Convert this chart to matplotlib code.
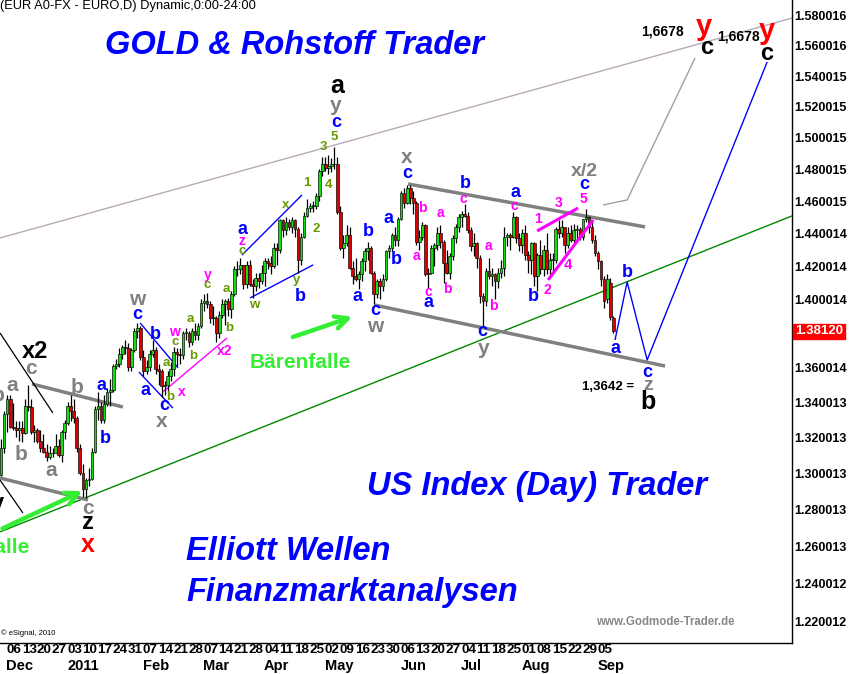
import numpy as np
import matplotlib
matplotlib.use("Agg")
import matplotlib.pyplot as plt
from matplotlib.ticker import NullLocator

plt.rcParams['font.family'] = ['Liberation Sans', 'DejaVu Sans']

# ---------------- data (daily EUR/USD candles, weekday index from 2010-11-29) -------------
opens = [1.3230, 1.3070, 1.2990, 1.3140, 1.3330, 1.3420, 1.3260, 1.3250, 1.3240, 1.3250,
         1.3225, 1.3380, 1.3370, 1.3230, 1.3240, 1.3180, 1.3140, 1.3120, 1.3090, 1.3110,
         1.3110, 1.3150, 1.3100, 1.3230, 1.3280, 1.3380, 1.3350, 1.3310, 1.3140, 1.3000,
         1.2910, 1.2960, 1.2970, 1.3120, 1.3360, 1.3380, 1.3300, 1.3390, 1.3460, 1.3470,
         1.3610, 1.3620, 1.3680, 1.3720, 1.3710, 1.3600, 1.3700, 1.3810, 1.3830, 1.3660,
         1.3580, 1.3600, 1.3680, 1.3700, 1.3590, 1.3580, 1.3490, 1.3500, 1.3550, 1.3590,
         1.3690, 1.3680, 1.3670, 1.3800, 1.3800, 1.3750, 1.3810, 1.3790, 1.3840, 1.3980,
         1.3990, 1.3970, 1.3890, 1.3890, 1.3800, 1.3910, 1.3970, 1.3990, 1.3940, 1.4030,
         1.4180, 1.4180, 1.4210, 1.4090, 1.4210, 1.4090, 1.4080, 1.4130, 1.4110, 1.4160,
         1.4230, 1.4220, 1.4200, 1.4310, 1.4300, 1.4480, 1.4420, 1.4470, 1.4440, 1.4480,
         1.4430, 1.4240, 1.4380, 1.4510, 1.4560, 1.4570, 1.4570, 1.4630, 1.4790, 1.4830,
         1.4810, 1.4820, 1.4830, 1.4830, 1.4530, 1.4310, 1.4340, 1.4390, 1.4190, 1.4140,
         1.4120, 1.4150, 1.4230, 1.4290, 1.4310, 1.4160, 1.4030, 1.4110, 1.4080, 1.4120,
         1.4290, 1.4310, 1.4390, 1.4360, 1.4490, 1.4650, 1.4590, 1.4680, 1.4620, 1.4590,
         1.4350, 1.4380, 1.4450, 1.4150, 1.4160, 1.4310, 1.4330, 1.4400, 1.4350, 1.4220,
         1.4160, 1.4260, 1.4370, 1.4440, 1.4500, 1.4520, 1.4510, 1.4420, 1.4320, 1.4340,
         1.4250, 1.4020, 1.3990, 1.4170, 1.4140, 1.4150, 1.4110, 1.4160, 1.4190, 1.4380,
         1.4390, 1.4380, 1.4500, 1.4370, 1.4330, 1.4400, 1.4270, 1.4240, 1.4340, 1.4140,
         1.4270, 1.4180, 1.4300, 1.4180, 1.4240, 1.4240, 1.4430, 1.4400, 1.4440, 1.4330,
         1.4400, 1.4360, 1.4420, 1.4430, 1.4380, 1.4490, 1.4500, 1.4440, 1.4360, 1.4280,
         1.4230, 1.4120, 1.4000, 1.4100, 1.3890]
highs = [1.3240, 1.3100, 1.3190, 1.3350, 1.3440, 1.3440, 1.3395, 1.3290, 1.3290, 1.3290,
         1.3420, 1.3500, 1.3420, 1.3270, 1.3255, 1.3240, 1.3220, 1.3160, 1.3150, 1.3140,
         1.3220, 1.3190, 1.3240, 1.3300, 1.3400, 1.3440, 1.3420, 1.3320, 1.3160, 1.3050,
         1.2975, 1.3030, 1.3140, 1.3380, 1.3460, 1.3400, 1.3440, 1.3480, 1.3530, 1.3620,
         1.3650, 1.3710, 1.3730, 1.3760, 1.3740, 1.3710, 1.3830, 1.3860, 1.3840, 1.3700,
         1.3640, 1.3700, 1.3760, 1.3720, 1.3620, 1.3590, 1.3520, 1.3580, 1.3630, 1.3720,
         1.3710, 1.3710, 1.3810, 1.3830, 1.3810, 1.3830, 1.3860, 1.3860, 1.4000, 1.4030,
         1.4040, 1.3990, 1.3960, 1.3900, 1.3930, 1.4000, 1.4000, 1.4010, 1.4050, 1.4200,
         1.4230, 1.4250, 1.4210, 1.4230, 1.4240, 1.4120, 1.4160, 1.4160, 1.4210, 1.4250,
         1.4250, 1.4260, 1.4340, 1.4340, 1.4490, 1.4490, 1.4500, 1.4490, 1.4500, 1.4490,
         1.4440, 1.4400, 1.4530, 1.4610, 1.4590, 1.4600, 1.4650, 1.4800, 1.4880, 1.4880,
         1.4890, 1.4870, 1.4940, 1.4880, 1.4570, 1.4390, 1.4450, 1.4440, 1.4230, 1.4250,
         1.4170, 1.4250, 1.4310, 1.4350, 1.4320, 1.4170, 1.4120, 1.4130, 1.4150, 1.4300,
         1.4330, 1.4400, 1.4440, 1.4500, 1.4660, 1.4680, 1.4700, 1.4700, 1.4660, 1.4600,
         1.4420, 1.4470, 1.4460, 1.4190, 1.4330, 1.4340, 1.4440, 1.4450, 1.4360, 1.4300,
         1.4280, 1.4390, 1.4460, 1.4520, 1.4540, 1.4580, 1.4530, 1.4440, 1.4400, 1.4350,
         1.4270, 1.4040, 1.4190, 1.4250, 1.4190, 1.4160, 1.4190, 1.4240, 1.4440, 1.4400,
         1.4400, 1.4530, 1.4510, 1.4400, 1.4430, 1.4450, 1.4290, 1.4350, 1.4350, 1.4280,
         1.4360, 1.4330, 1.4400, 1.4280, 1.4280, 1.4440, 1.4480, 1.4480, 1.4440, 1.4440,
         1.4450, 1.4460, 1.4450, 1.4440, 1.4490, 1.4550, 1.4510, 1.4480, 1.4390, 1.4290,
         1.4240, 1.4140, 1.4150, 1.4130, 1.3900]
lows = [1.3060, 1.2968, 1.2985, 1.3110, 1.3230, 1.3250, 1.3240, 1.3200, 1.3180, 1.3175,
        1.3220, 1.3350, 1.3220, 1.3175, 1.3170, 1.3120, 1.3110, 1.3070, 1.3080, 1.3090,
        1.3110, 1.3090, 1.3060, 1.3190, 1.3270, 1.3290, 1.3280, 1.3120, 1.2990, 1.2870,
        1.2860, 1.2930, 1.2960, 1.3110, 1.3300, 1.3280, 1.3280, 1.3380, 1.3380, 1.3460,
        1.3590, 1.3600, 1.3650, 1.3680, 1.3580, 1.3580, 1.3690, 1.3770, 1.3640, 1.3550,
        1.3560, 1.3580, 1.3660, 1.3560, 1.3500, 1.3430, 1.3440, 1.3460, 1.3520, 1.3550,
        1.3610, 1.3620, 1.3650, 1.3760, 1.3720, 1.3730, 1.3760, 1.3760, 1.3830, 1.3930,
        1.3950, 1.3860, 1.3850, 1.3750, 1.3770, 1.3890, 1.3850, 1.3900, 1.3890, 1.4020,
        1.4140, 1.4150, 1.4060, 1.4070, 1.4080, 1.4010, 1.4050, 1.4070, 1.4090, 1.4080,
        1.4180, 1.4150, 1.4190, 1.4210, 1.4280, 1.4380, 1.4390, 1.4420, 1.4400, 1.4380,
        1.4160, 1.4210, 1.4370, 1.4500, 1.4530, 1.4530, 1.4550, 1.4600, 1.4760, 1.4790,
        1.4770, 1.4780, 1.4800, 1.4520, 1.4300, 1.4250, 1.4320, 1.4180, 1.4090, 1.4110,
        1.4060, 1.4110, 1.4170, 1.4240, 1.4150, 1.3970, 1.4010, 1.4000, 1.4050, 1.4110,
        1.4250, 1.4290, 1.4320, 1.4320, 1.4480, 1.4560, 1.4580, 1.4580, 1.4520, 1.4330,
        1.4300, 1.4360, 1.4140, 1.4070, 1.4150, 1.4200, 1.4300, 1.4310, 1.4100, 1.4150,
        1.4120, 1.4240, 1.4340, 1.4410, 1.4440, 1.4500, 1.4400, 1.4290, 1.4260, 1.4190,
        1.3980, 1.3837, 1.3960, 1.4120, 1.4080, 1.4000, 1.4070, 1.4130, 1.4140, 1.4320,
        1.4300, 1.4370, 1.4340, 1.4290, 1.4280, 1.4240, 1.4160, 1.4150, 1.4080, 1.4050,
        1.4150, 1.4140, 1.4150, 1.4140, 1.4150, 1.4220, 1.4370, 1.4380, 1.4280, 1.4310,
        1.4350, 1.4340, 1.4360, 1.4360, 1.4360, 1.4470, 1.4400, 1.4340, 1.4260, 1.4180,
        1.4080, 1.3950, 1.3980, 1.3880, 1.3800]
closes = [1.3070, 1.2990, 1.3140, 1.3330, 1.3420, 1.3260, 1.3250, 1.3240, 1.3250, 1.3225,
          1.3380, 1.3370, 1.3230, 1.3240, 1.3180, 1.3140, 1.3120, 1.3090, 1.3110, 1.3110,
          1.3150, 1.3100, 1.3230, 1.3280, 1.3380, 1.3350, 1.3310, 1.3140, 1.3000, 1.2910,
          1.2960, 1.2970, 1.3120, 1.3360, 1.3380, 1.3300, 1.3390, 1.3460, 1.3470, 1.3610,
          1.3620, 1.3680, 1.3720, 1.3710, 1.3600, 1.3700, 1.3810, 1.3830, 1.3660, 1.3580,
          1.3600, 1.3680, 1.3700, 1.3590, 1.3580, 1.3490, 1.3500, 1.3550, 1.3590, 1.3690,
          1.3680, 1.3670, 1.3800, 1.3800, 1.3750, 1.3810, 1.3790, 1.3840, 1.3980, 1.3990,
          1.3970, 1.3890, 1.3890, 1.3800, 1.3910, 1.3970, 1.3990, 1.3940, 1.4030, 1.4180,
          1.4180, 1.4210, 1.4090, 1.4210, 1.4090, 1.4080, 1.4130, 1.4110, 1.4160, 1.4230,
          1.4220, 1.4200, 1.4310, 1.4300, 1.4480, 1.4420, 1.4470, 1.4440, 1.4480, 1.4430,
          1.4240, 1.4380, 1.4510, 1.4560, 1.4570, 1.4570, 1.4630, 1.4790, 1.4830, 1.4810,
          1.4820, 1.4830, 1.4830, 1.4530, 1.4310, 1.4340, 1.4390, 1.4190, 1.4140, 1.4120,
          1.4150, 1.4230, 1.4290, 1.4310, 1.4160, 1.4030, 1.4110, 1.4080, 1.4120, 1.4290,
          1.4310, 1.4390, 1.4360, 1.4490, 1.4650, 1.4590, 1.4680, 1.4620, 1.4590, 1.4350,
          1.4380, 1.4450, 1.4150, 1.4160, 1.4310, 1.4330, 1.4400, 1.4350, 1.4220, 1.4160,
          1.4260, 1.4370, 1.4440, 1.4500, 1.4520, 1.4510, 1.4420, 1.4320, 1.4340, 1.4250,
          1.4020, 1.3990, 1.4170, 1.4140, 1.4150, 1.4110, 1.4160, 1.4190, 1.4380, 1.4390,
          1.4380, 1.4500, 1.4370, 1.4330, 1.4400, 1.4270, 1.4240, 1.4340, 1.4140, 1.4270,
          1.4180, 1.4300, 1.4180, 1.4240, 1.4240, 1.4430, 1.4400, 1.4440, 1.4330, 1.4400,
          1.4360, 1.4420, 1.4430, 1.4380, 1.4490, 1.4500, 1.4440, 1.4360, 1.4280, 1.4230,
          1.4120, 1.3990, 1.4120, 1.3895, 1.3812]

# weekly tick labels (Mondays, weekday index) and month labels
tick_index = list(range(5, 201, 5))
tick_labels = ["06", "13", "20", "27", "03", "10", "17", "24", "31", "07", "14", "21", "28",
               "07", "14", "21", "28", "04", "11", "18", "25", "02", "09", "16", "23", "30",
               "06", "13", "20", "27", "04", "11", "18", "25", "01", "08", "15", "22", "29", "05"]
month_index = [5, 25, 50, 70, 90, 110, 135, 155, 175, 200]
month_labels = ["Dec", "2011", "Feb", "Mar", "Apr", "May", "Jun", "Jul", "Aug", "Sep"]

price_ticks = [1.580016, 1.560016, 1.540015, 1.520015, 1.500015, 1.480015, 1.460015,
               1.440014, 1.420014, 1.400014, 1.360014, 1.340013, 1.320013, 1.300013,
               1.280013, 1.260013, 1.240012, 1.220012]
last_price = 1.38120

# ---------------- figure ----------------
W, H = 849, 674
fig = plt.figure(figsize=(W / 100, H / 100), dpi=100)
fig.patch.set_facecolor("white")
ax = fig.add_axes([0, 31 / H, 792 / W, 643 / H])
ax.set_yscale("log")
ax.set_ylim(1.2091, 1.5908)
ax.set_xlim(1.65, 263.0)

for s in ["left", "top"]:
    ax.spines[s].set_visible(False)
for s in ["right", "bottom"]:
    ax.spines[s].set_color("black")
    ax.spines[s].set_linewidth(1.0)

ax.set_xticks([])
ax.yaxis.tick_right()
ax.yaxis.set_minor_locator(NullLocator())
ax.set_yticks(price_ticks)
ax.set_yticklabels([f"{v:.6f}" for v in price_ticks], fontsize=9, fontweight="bold")
ax.tick_params(axis="y", length=0, pad=1.5)

# ---------------- candles ----------------
o = np.array(opens); h = np.array(highs); l = np.array(lows); c = np.array(closes)
x = np.arange(len(c))
ax.vlines(x, l, h, color="black", lw=0.9, zorder=2)
up = c >= o
body_lo = np.minimum(o, c)
body_hi = np.maximum(o, c)
body_h = np.maximum(body_hi - body_lo, 0.0004)
ax.bar(x[up], body_h[up], bottom=body_lo[up], width=0.9, color="#11dd11",
       edgecolor="black", linewidth=0.45, zorder=3)
ax.bar(x[~up], body_h[~up], bottom=body_lo[~up], width=0.9, color="#dd0000",
       edgecolor="black", linewidth=0.45, zorder=3)

# ---------------- lines ----------------
def seg(xs, ys, color, lw, z=1.5):
    ax.plot(xs, ys, color=color, lw=lw, zorder=z, solid_capstyle="butt")

seg([1.65, 263.0], [1.4372, 1.5786], "#b8a8b8", 1.0)           # upper long channel
seg([1.65, 263.0], [1.2678, 1.4508], "#008800", 1.0)           # green trend line
seg([200.7, 208.6, 231.0], [1.4576, 1.4607, 1.5519], "#a0a0a0", 1.0)
seg([204.6, 208.6, 215.2, 254.8], [1.3760, 1.4105, 1.3643, 1.5493], "#0000ff", 1.0, 4)
# gray thick channels
seg([12.2, 42.2], [1.3504, 1.3372], "#808080", 2.5)
seg([1.65, 30.7], [1.2973, 1.2852], "#808080", 2.5)
seg([136.3, 214.5], [1.4707, 1.4440], "#808080", 2.5)
seg([125.1, 221.1], [1.3967, 1.3608], "#808080", 2.5)
# black thin
seg([1.65, 19.1], [1.3801, 1.3338], "black", 0.9)
seg([1.65, 9.2], [1.2962, 1.2781], "black", 0.9)
# blue thin channels
seg([47.9, 60.4], [1.3860, 1.3597], "#0000ff", 1.0)
seg([47.5, 58.7], [1.3573, 1.3366], "#0000ff", 1.0)
seg([81.5, 101.3], [1.4268, 1.4638], "#0000ff", 1.0)
seg([84.2, 105.0], [1.4009, 1.4208], "#0000ff", 1.0)
# magenta
seg([55.4, 76.6], [1.3458, 1.3772], "#ff00ff", 1.0)
seg([178.9, 192.4], [1.4415, 1.4557], "#ff00ff", 2.2, 4)
seg([182.5, 197.4], [1.4117, 1.4483], "#ff00ff", 2.2, 4)

# green arrows
for (x0, y0, x1, y1) in [(97.4, 1.3772, 118.8, 1.3902), (1.65, 1.2690, 29.7, 1.2907)]:
    ax.annotate("", xy=(x1, y1), xytext=(x0, y0),
                arrowprops=dict(arrowstyle="->,head_length=0.9,head_width=0.45",
                                color="#33ee33", lw=3.2), zorder=5)

# ---------------- wave labels ----------------
BLK, RED, GRY, BLU, MAG, GRN = "black", "#ff0000", "#808080", "#0000ff", "#ff00ff", "#669900"
labels = [
    # black
    ("a", 112.9, 1.5335, BLK, 18), ("x2", 13.2, 1.3690, BLK, 17), ("z", 30.7, 1.2727, BLK, 17),
    ("b", 215.5, 1.3401, BLK, 18), ("c", 234.7, 1.5586, BLK, 17), ("c", 254.8, 1.5552, BLK, 17),
    ("y", 0.9, 1.2835, BLK, 17),
    # red
    ("x", 30.7, 1.2607, RED, 18), ("y", 234.0, 1.5726, RED, 21), ("y", 254.8, 1.5700, RED, 21),
    # gray
    ("y", 112.5, 1.5211, GRY, 15), ("x", 136.0, 1.4877, GRY, 15), ("w", 46.9, 1.3997, GRY, 15),
    ("x", 55.1, 1.3287, GRY, 15), ("c", 11.9, 1.3591, GRY, 15), ("a", 5.6, 1.3498, GRY, 15),
    ("b", 27.1, 1.3486, GRY, 15), ("b", 8.6, 1.3101, GRY, 15), ("a", 18.5, 1.3017, GRY, 15),
    ("c", 30.7, 1.2803, GRY, 15), ("w", 125.4, 1.3837, GRY, 15), ("y", 161.1, 1.3708, GRY, 15),
    ("x/2", 194.4, 1.4783, GRY, 14), ("z", 215.5, 1.3498, GRY, 14), ("b", 1.0, 1.3440, GRY, 15),
    # blue
    ("c", 112.5, 1.5095, BLU, 13), ("c", 136.0, 1.4770, BLU, 13), ("b", 123.1, 1.4409, BLU, 13),
    ("a", 119.5, 1.4015, BLU, 13), ("c", 125.4, 1.3932, BLU, 13), ("a", 130.0, 1.4495, BLU, 13),
    ("b", 132.3, 1.4238, BLU, 13), ("a", 142.9, 1.3979, BLU, 13), ("b", 155.1, 1.4707, BLU, 13),
    ("a", 171.6, 1.4651, BLU, 13), ("b", 177.6, 1.4015, BLU, 13), ("c", 194.4, 1.4701, BLU, 13),
    ("c", 160.7, 1.3807, BLU, 13), ("a", 81.8, 1.4421, BLU, 13), ("b", 100.7, 1.4015, BLU, 13),
    ("b", 52.8, 1.3790, BLU, 13), ("c", 46.9, 1.3908, BLU, 13), ("a", 49.8, 1.3469, BLU, 13),
    ("c", 55.8, 1.3378, BLU, 13), ("a", 35.3, 1.3498, BLU, 13), ("b", 36.3, 1.3196, BLU, 13),
    ("b", 208.6, 1.4159, BLU, 13), ("a", 204.6, 1.3708, BLU, 13), ("c", 215.2, 1.3573, BLU, 13),
    # magenta
    ("b", 140.9, 1.4557, MAG, 10), ("a", 139.0, 1.4262, MAG, 10), ("a", 146.9, 1.4526, MAG, 10),
    ("c", 142.9, 1.4045, MAG, 10), ("b", 149.2, 1.4063, MAG, 10), ("c", 154.5, 1.4613, MAG, 10),
    ("a", 162.7, 1.4323, MAG, 10), ("b", 164.4, 1.3961, MAG, 10), ("c", 171.3, 1.4570, MAG, 10),
    ("1", 179.2, 1.4489, MAG, 10), ("3", 186.1, 1.4588, MAG, 10), ("5", 194.1, 1.4613, MAG, 10),
    ("4", 189.1, 1.4208, MAG, 11), ("2", 182.2, 1.4057, MAG, 10), ("w", 59.1, 1.3807, MAG, 10),
    ("x", 61.7, 1.3458, MAG, 10), ("x2", 75.6, 1.3696, MAG, 10), ("z", 81.5, 1.4354, MAG, 10),
    ("y", 70.3, 1.4147, MAG, 10),
    # green / olive
    ("c", 59.4, 1.3749, GRN, 9.5), ("a", 56.4, 1.3626, GRN, 9.5), ("b", 57.8, 1.3429, GRN, 9.5),
    ("b", 65.3, 1.3667, GRN, 9.5), ("a", 64.4, 1.3884, GRN, 9.5), ("c", 70.0, 1.4087, GRN, 9.5),
    ("a", 76.2, 1.4063, GRN, 9.5), ("b", 77.2, 1.3831, GRN, 9.5), ("c", 81.5, 1.4293, GRN, 9.5),
    ("w", 85.5, 1.3968, GRN, 9.5), ("x", 96.0, 1.4576, GRN, 9.5), ("y", 99.7, 1.4117, GRN, 9.5),
    ("1", 103.0, 1.4714, GRN, 9.5), ("2", 105.9, 1.4427, GRN, 9.5), ("3", 108.3, 1.4941, GRN, 9.5),
    ("4", 109.9, 1.4701, GRN, 9.5), ("5", 111.9, 1.5005, GRN, 9.5),
]
for t, lx, ly, col, fs in labels:
    ax.text(lx, ly, t, color=col, fontsize=fs, fontweight="bold", ha="center", va="center",
            zorder=6, clip_on=False)

# target texts
ax.text(220.1, 1.5693, "1,6678", fontsize=10, fontweight="bold", ha="center", va="center", zorder=6)
ax.text(245.2, 1.5659, "1,6678", fontsize=10, fontweight="bold", ha="center", va="center", zorder=6)
ax.text(202.3, 1.3486, "1,3642 =", fontsize=9.5, fontweight="bold", ha="center", va="center", zorder=6)

# Bärenfalle
ax.text(100.7, 1.3626, "Bärenfalle", color="#33ee33", fontsize=15, fontweight="bold",
        ha="center", va="center", zorder=6)
ax.text(11.6, 1.2596, "Bärenfalle", color="#33ee33", fontsize=15, fontweight="bold",
        ha="right", va="center", zorder=6, clip_on=True)

# ---------------- x axis labels ----------------
xt = ax.get_xaxis_transform()
for ti, tl in zip(tick_index, tick_labels):
    ax.text(ti + 1.27, -0.0115, tl, transform=xt, fontsize=9.7, fontweight="bold",
            ha="center", va="center", clip_on=False)
for mi, ml in zip(month_index, month_labels):
    ax.text(mi + 1.27 - 2.5, -0.036, ml, transform=xt, fontsize=10.5, fontweight="bold",
            ha="left", va="center", clip_on=False)

# last price box
ax.text(1.0 + 3 / 792, last_price, f"{last_price:.5f}", transform=ax.get_yaxis_transform(),
        color="white", fontsize=9.5, fontweight="bold", ha="left", va="center",
        bbox=dict(boxstyle="square,pad=0.12", fc="#ff0000", ec="#ff0000"), clip_on=False, zorder=7)

# ---------------- overlay texts ----------------
def ftext(px, py, s, **kw):
    fig.text(px / W, 1 - py / H, s, **kw)

ftext(0, 6, "(EUR A0-FX - EURO,D) Dynamic,0:00-24:00", fontsize=9.3, ha="left", va="center")
blue_kw = dict(color="#0000ff", fontsize=23.5, fontweight="bold", fontstyle="italic", va="center")
ftext(105, 45, "GOLD & Rohstoff Trader", ha="left", **blue_kw)
ftext(367, 486, "US Index (Day) Trader", ha="left", **blue_kw)
ftext(186, 551, "Elliott Wellen", ha="left", **blue_kw)
ftext(186, 593, "Finanzmarktanalysen", ha="left", **blue_kw)
ftext(596, 622, "www.Godmode-Trader.de", color="#888888", fontsize=8.3, fontweight="bold",
      ha="left", va="center")
ftext(1, 633, "© eSignal, 2010", fontsize=5.5, ha="left", va="center")

fig.savefig("out.png", dpi=100)
